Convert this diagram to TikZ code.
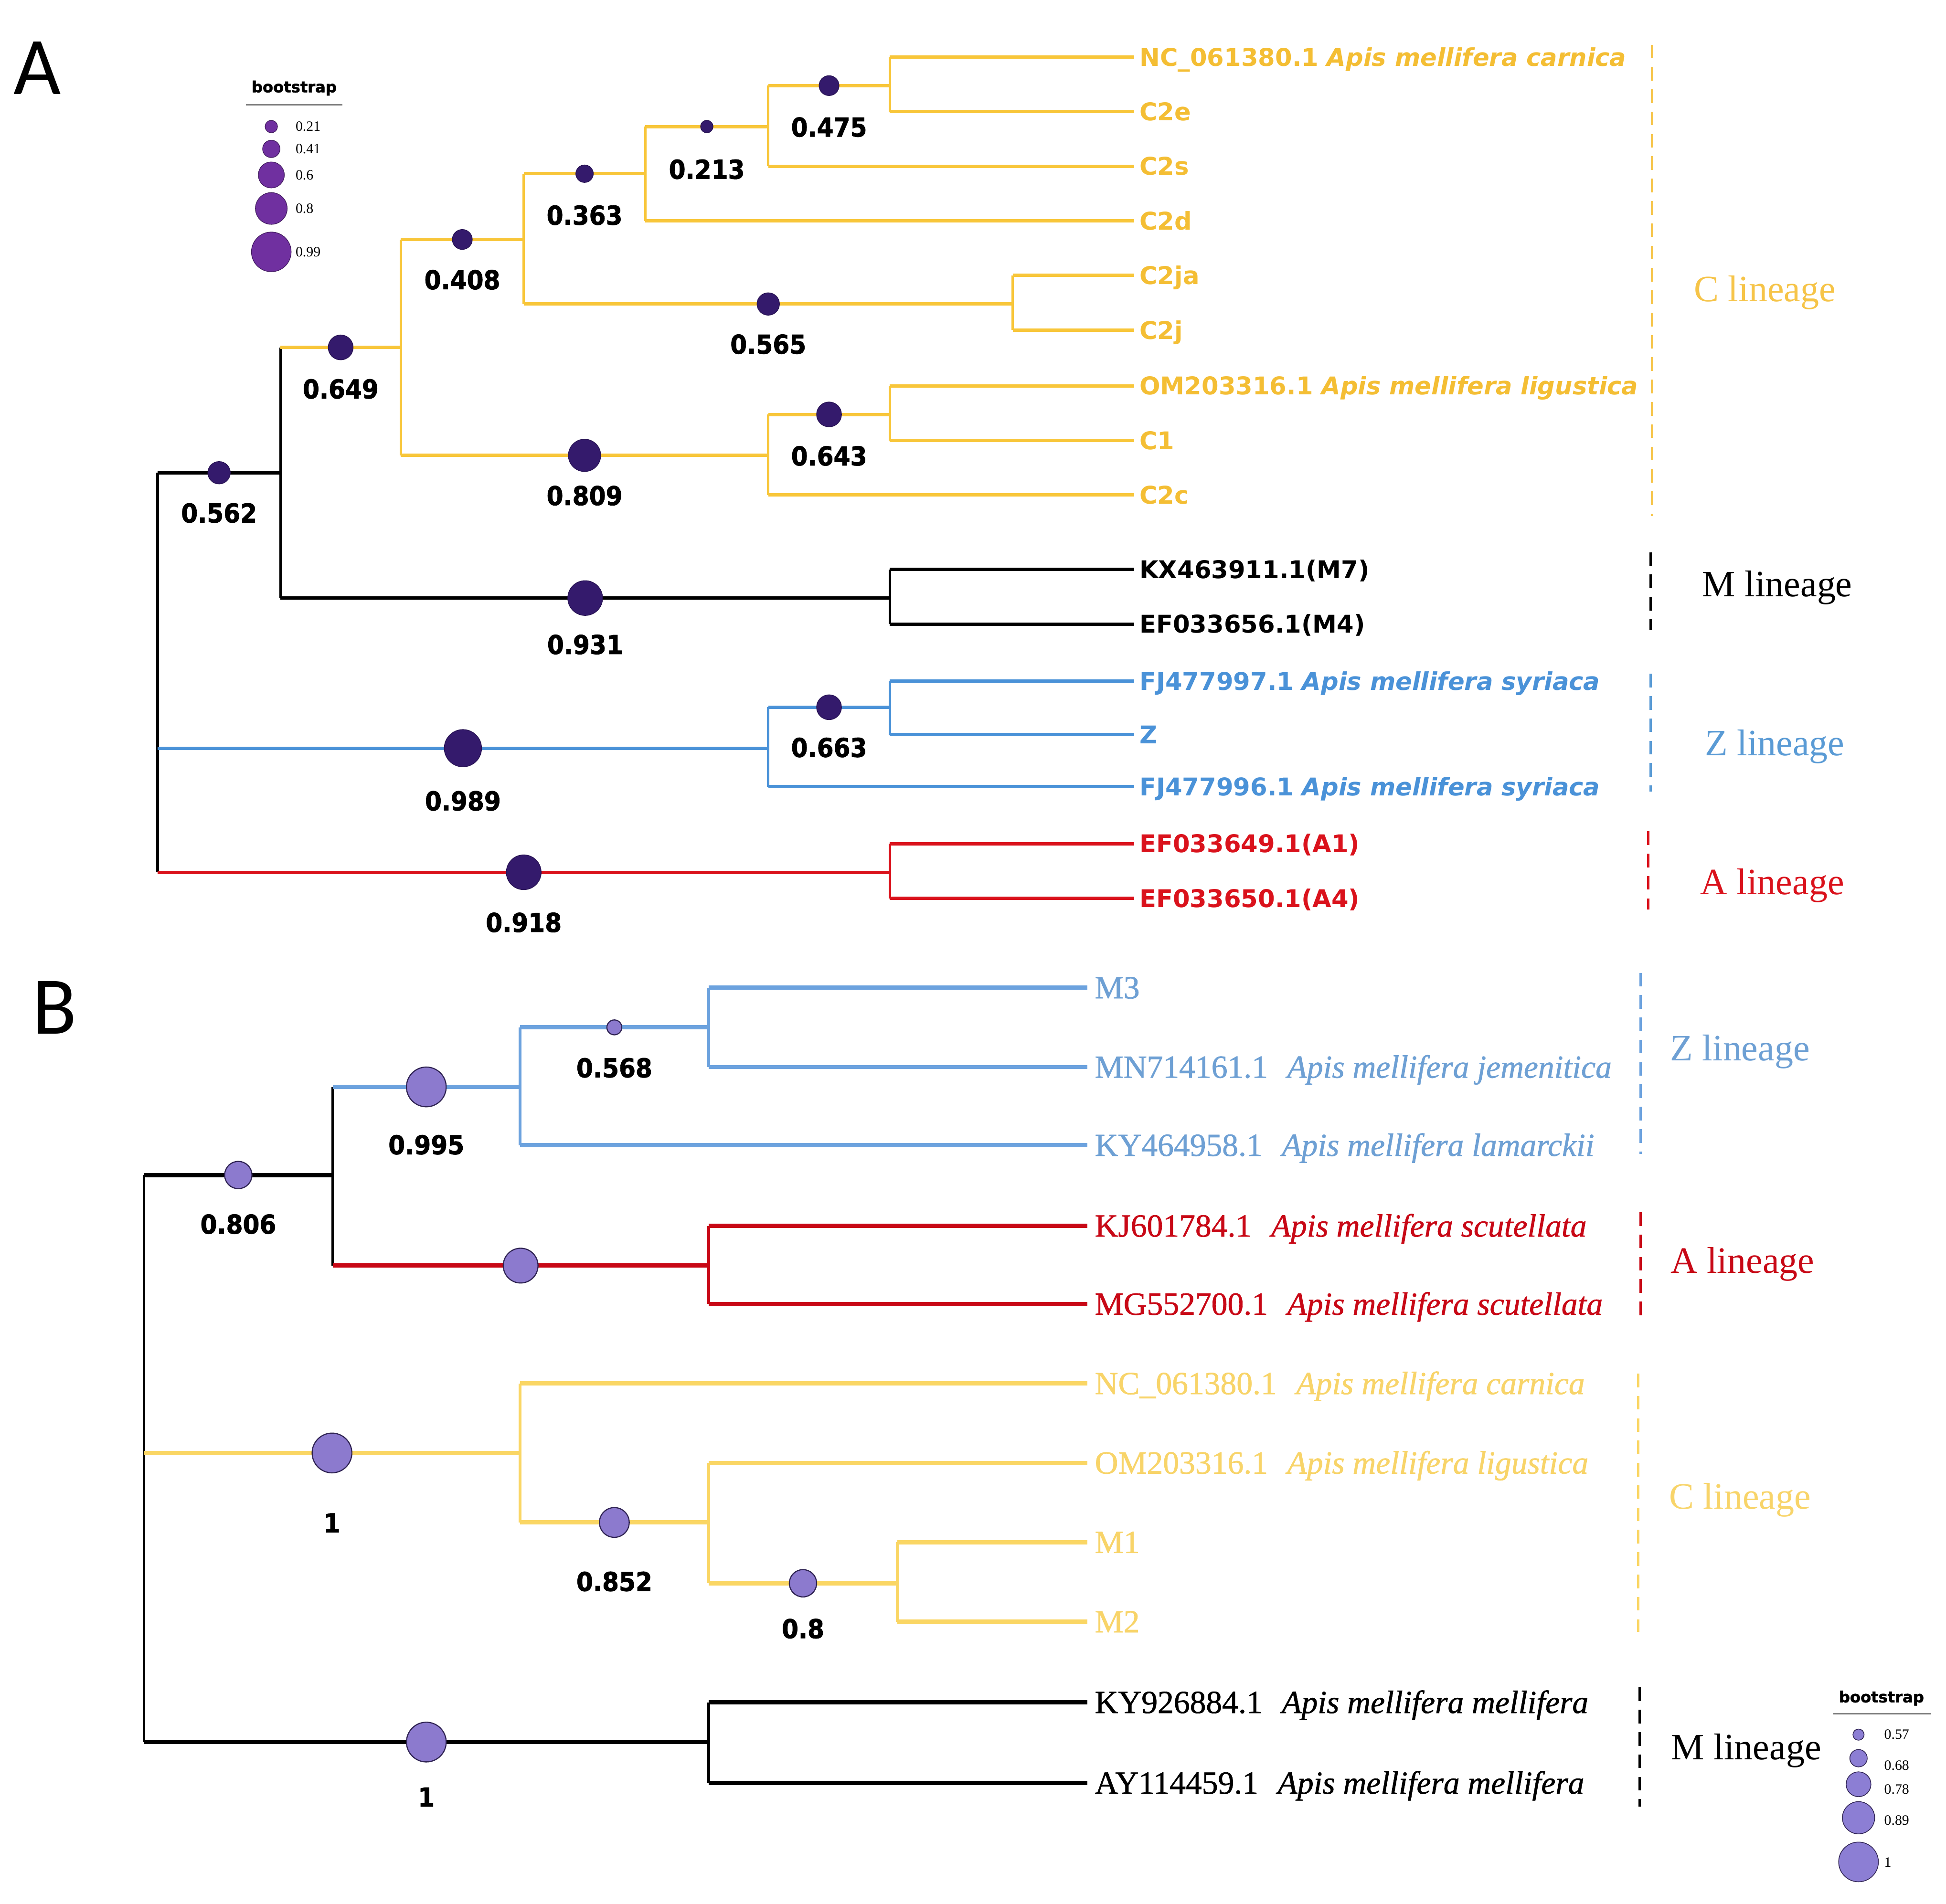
\documentclass[tikz,border=0pt]{standalone}
\usepackage{fontspec}
\usepackage{graphicx}
\newfontfamily\vfont{DejaVu Sans}
\newfontfamily\bsfont{DejaVu Sans}[BoldFeatures={FakeBold=1.6}]
\newfontfamily\tfont{Liberation Serif}
\newfontfamily\tbfont{Liberation Serif}[FakeBold=1]
\newfontfamily\cfont{Carlito}
\newcommand{\bsnum}[1]{\scalebox{0.92}[1]{#1}}
\usetikzlibrary{positioning}
\definecolor{yA}{RGB}{248,198,58}
\definecolor{yAt}{RGB}{244,190,52}
\definecolor{bA}{RGB}{74,146,216}
\definecolor{rA}{RGB}{218,18,28}
\definecolor{dotA}{RGB}{52,26,108}
\definecolor{legA}{RGB}{112,48,160}
\definecolor{yB}{RGB}{250,214,100}
\definecolor{yBt}{RGB}{248,212,105}
\definecolor{bB}{RGB}{108,162,222}
\definecolor{bBt}{RGB}{110,160,212}
\definecolor{rB}{RGB}{200,8,22}
\definecolor{dotB}{RGB}{140,122,206}
\definecolor{dotBline}{RGB}{48,36,84}
\definecolor{legB}{RGB}{140,126,212}
\definecolor{zlab}{RGB}{90,155,213}
\definecolor{clab}{RGB}{246,196,72}
\begin{document}
\begin{tikzpicture}[x=1pt,y=-1pt,
  hA/.style={line width=2.7pt},
  vA/.style={line width=2pt},
  hB/.style={line width=3.4pt},
  vB/.style={line width=2pt},
  dA/.style={circle,fill=dotA,draw=dotA!80!black,line width=0.6pt,inner sep=0pt,minimum size=#1},
  dB/.style={circle,fill=dotB,draw=dotBline,line width=0.9pt,inner sep=0pt,minimum size=#1},
  bsl/.style={font=\bsfont\bfseries\fontsize{21}{22}\selectfont,inner sep=0pt},
  tipA/.style={anchor=west,inner xsep=4pt,inner ysep=0pt,text height=14.4pt,text depth=0pt,font=\vfont\bfseries\fontsize{19.7}{20}\selectfont},
  tipB/.style={anchor=west,inner xsep=6pt,inner ysep=0pt,text height=17.2pt,text depth=0pt,font=\tbfont\fontsize{26}{27}\selectfont},
  lin/.style={font=\tfont\fontsize{30}{31}\selectfont,inner sep=0pt,text height=19.9pt,text depth=0pt},
  brk/.style={line width=2pt,dash pattern=on 11pt off 7pt},
  legt/.style={font=\bsfont\bfseries\fontsize{12.4}{13}\selectfont,inner sep=0pt},
  legn/.style={font=\tfont\fontsize{11.5}{12}\selectfont,inner sep=0pt,anchor=west},
  pan/.style={font=\cfont\fontsize{66}{66}\selectfont,inner sep=0pt},
]
\useasboundingbox (0,0) rectangle (1568,1534.5);
\fill[white] (0,0) rectangle (1568,1534.5);

% ================= Panel A =================
\node[pan] (pA) at (30,55) {A};

% legend A
\node[legt] (legAt) at (237,71) {bootstrap};
\draw[gray,line width=1.2pt] (198,84.5) -- (276,84.5);
\node[circle,fill=legA,draw=legA!60!black,line width=0.5pt,inner sep=0pt,minimum size=10pt] (lgA1) at (218.6,102) {};
\node[circle,fill=legA,draw=legA!60!black,line width=0.5pt,inner sep=0pt,minimum size=14pt] (lgA2) at (218.6,120) {};
\node[circle,fill=legA,draw=legA!60!black,line width=0.5pt,inner sep=0pt,minimum size=21pt] (lgA3) at (218.6,141) {};
\node[circle,fill=legA,draw=legA!60!black,line width=0.5pt,inner sep=0pt,minimum size=25.6pt] (lgA4) at (218.6,168) {};
\node[circle,fill=legA,draw=legA!60!black,line width=0.5pt,inner sep=0pt,minimum size=32pt] (lgA5) at (218.6,203) {};
\node[legn] (lgAn1) at (238,102) {0.21};
\node[legn] (lgAn2) at (238,120) {0.41};
\node[legn] (lgAn3) at (238,141) {0.6};
\node[legn] (lgAn4) at (238,168) {0.8};
\node[legn] (lgAn5) at (238,203) {0.99};

% internal nodes A
\coordinate (aR) at (127,542);
\coordinate (a562) at (226,381);
\coordinate (a649) at (323,280);
\coordinate (a408) at (422,193);
\coordinate (a363) at (520,140);
\coordinate (a213) at (619,102);
\coordinate (a475) at (717,69);
\coordinate (a565) at (816,245);
\coordinate (a809) at (619,367);
\coordinate (a643) at (717,334);
\coordinate (aM) at (717,482);
\coordinate (aZ) at (619,603);
\coordinate (a663) at (717,570);
\coordinate (aA) at (717,703);

% tips A
\node[tipA,text=yAt] (tNC) at (914,46) {NC\_061380.1 \textit{Apis mellifera carnica}};
\node[tipA,text=yAt] (tC2e) at (914,90) {C2e};
\node[tipA,text=yAt] (tC2s) at (914,134) {C2s};
\node[tipA,text=yAt] (tC2d) at (914,178) {C2d};
\node[tipA,text=yAt] (tC2ja) at (914,222) {C2ja};
\node[tipA,text=yAt] (tC2j) at (914,266) {C2j};
\node[tipA,text=yAt] (tOM) at (914,311) {OM203316.1 \textit{Apis mellifera ligustica}};
\node[tipA,text=yAt] (tC1) at (914,355) {C1};
\node[tipA,text=yAt] (tC2c) at (914,399) {C2c};
\node[tipA,text=black] (tKX) at (914,459) {KX463911.1(M7)};
\node[tipA,text=black] (tEF56) at (914,503) {EF033656.1(M4)};
\node[tipA,text=bA] (tFJ97) at (914,549) {FJ477997.1 \textit{Apis mellifera syriaca}};
\node[tipA,text=bA] (tZ) at (914,592) {Z};
\node[tipA,text=bA] (tFJ96) at (914,634) {FJ477996.1 \textit{Apis mellifera syriaca}};
\node[tipA,text=rA] (tEF49) at (914,680) {EF033649.1(A1)};
\node[tipA,text=rA] (tEF50) at (914,724) {EF033650.1(A4)};

% root A
\draw[vA] (aR |- a562) -- (aR |- aA);
\draw[hA] (aR |- a562) -- (a562) node[midway,dA=18pt] (d562) {};
\draw[hA,bA] (aR |- aZ) -- (aZ) node[midway,dA=30pt] (d989) {};
\draw[hA,rA] (aR |- aA) -- (aA) node[midway,dA=28pt] (d918) {};
% a562
\draw[vA] (a562 |- a649) -- (a562 |- aM);
\draw[hA,yA] (a562 |- a649) -- (a649) node[midway,dA=20pt] (d649) {};
\draw[hA] (a562 |- aM) -- (aM) node[midway,dA=28pt] (d931) {};
% a649
\draw[vA,yA] (a649 |- a408) -- (a649 |- a809);
\draw[hA,yA] (a649 |- a408) -- (a408) node[midway,dA=16pt] (d408) {};
\draw[hA,yA] (a649 |- a809) -- (a809) node[midway,dA=26pt] (d809) {};
% a408
\draw[vA,yA] (a408 |- a363) -- (a408 |- a565);
\draw[hA,yA] (a408 |- a363) -- (a363) node[midway,dA=14pt] (d363) {};
\draw[hA,yA] (a408 |- a565) -- (a565) node[midway,dA=18pt] (d565) {};
% a363
\draw[vA,yA] (a363 |- a213) -- (a363 |- tC2d);
\draw[hA,yA] (a363 |- a213) -- (a213) node[midway,dA=10pt] (d213) {};
\draw[hA,yA] (a363 |- tC2d) -- (tC2d.west);
% a213
\draw[vA,yA] (a213 |- a475) -- (a213 |- tC2s);
\draw[hA,yA] (a213 |- a475) -- (a475) node[midway,dA=16pt] (d475) {};
\draw[hA,yA] (a213 |- tC2s) -- (tC2s.west);
% a475
\draw[vA,yA] (a475 |- tNC) -- (a475 |- tC2e);
\draw[hA,yA] (a475 |- tNC) -- (tNC.west);
\draw[hA,yA] (a475 |- tC2e) -- (tC2e.west);
% a565
\draw[vA,yA] (a565 |- tC2ja) -- (a565 |- tC2j);
\draw[hA,yA] (a565 |- tC2ja) -- (tC2ja.west);
\draw[hA,yA] (a565 |- tC2j) -- (tC2j.west);
% a809
\draw[vA,yA] (a809 |- a643) -- (a809 |- tC2c);
\draw[hA,yA] (a809 |- a643) -- (a643) node[midway,dA=20pt] (d643) {};
\draw[hA,yA] (a809 |- tC2c) -- (tC2c.west);
% a643
\draw[vA,yA] (a643 |- tOM) -- (a643 |- tC1);
\draw[hA,yA] (a643 |- tOM) -- (tOM.west);
\draw[hA,yA] (a643 |- tC1) -- (tC1.west);
% aM
\draw[vA] (aM |- tKX) -- (aM |- tEF56);
\draw[hA] (aM |- tKX) -- (tKX.west);
\draw[hA] (aM |- tEF56) -- (tEF56.west);
% aZ
\draw[vA,bA] (aZ |- a663) -- (aZ |- tFJ96);
\draw[hA,bA] (aZ |- a663) -- (a663) node[midway,dA=20pt] (d663) {};
\draw[hA,bA] (aZ |- tFJ96) -- (tFJ96.west);
% a663
\draw[vA,bA] (a663 |- tFJ97) -- (a663 |- tZ);
\draw[hA,bA] (a663 |- tFJ97) -- (tFJ97.west);
\draw[hA,bA] (a663 |- tZ) -- (tZ.west);
% aA
\draw[vA,rA] (aA |- tEF49) -- (aA |- tEF50);
\draw[hA,rA] (aA |- tEF49) -- (tEF49.west);
\draw[hA,rA] (aA |- tEF50) -- (tEF50.west);

% bootstrap values A
\node[bsl,below=15pt of d562] (l562) {\bsnum{0.562}};
\node[bsl,below=15pt of d649] (l649) {\bsnum{0.649}};
\node[bsl,below=16pt of d408] (l408) {\bsnum{0.408}};
\node[bsl,below=18pt of d363] (l363) {\bsnum{0.363}};
\node[bsl,below=21pt of d213] (l213) {\bsnum{0.213}};
\node[bsl,below=17pt of d475] (l475) {\bsnum{0.475}};
\node[bsl,below=15pt of d565] (l565) {\bsnum{0.565}};
\node[bsl,below=11pt of d809] (l809) {\bsnum{0.809}};
\node[bsl,below=15pt of d643] (l643) {\bsnum{0.643}};
\node[bsl,below=15pt of d931] (l931) {\bsnum{0.931}};
\node[bsl,below=19pt of d989] (l989) {\bsnum{0.989}};
\node[bsl,below=14pt of d663] (l663) {\bsnum{0.663}};
\node[bsl,below=18pt of d918] (l918) {\bsnum{0.918}};

% lineage brackets A
\draw[brk,clab] (1331,36) -- (1331,416);
\draw[brk,black] (1330,445) -- (1330,508);
\draw[brk,zlab] (1330,543) -- (1330,638);
\draw[brk,rA] (1328,670) -- (1328,733);
\node[lin,text=clab] (linAC) at (1422,233) {C lineage};
\node[lin,text=black] (linAM) at (1432,471) {M lineage};
\node[lin,text=zlab] (linAZ) at (1430,599) {Z lineage};
\node[lin,text=rA] (linAA) at (1428,711) {A lineage};

% ================= Panel B =================
\node[pan] (pB) at (44,812) {B};

\coordinate (bR) at (116,1175);
\coordinate (b806) at (268,947);
\coordinate (bZ) at (419,876);
\coordinate (b568) at (571,828);
\coordinate (bA) at (571,1020);
\coordinate (bC) at (419,1171);
\coordinate (b852) at (571,1227);
\coordinate (b08) at (723,1276);
\coordinate (bM) at (571,1404);

\node[tipB,text=bBt] (uM3) at (876,796) {M3};
\node[tipB,text=bBt] (uMN) at (876,860) {MN714161.1\hspace{0.35em} \textit{Apis mellifera jemenitica}};
\node[tipB,text=bBt] (uKY46) at (876,923) {KY464958.1\hspace{0.35em} \textit{Apis mellifera lamarckii}};
\node[tipB,text=rB] (uKJ) at (876,988) {KJ601784.1\hspace{0.35em} \textit{Apis mellifera scutellata}};
\node[tipB,text=rB] (uMG) at (876,1051) {MG552700.1\hspace{0.35em} \textit{Apis mellifera scutellata}};
\node[tipB,text=yBt] (uNC) at (876,1115) {NC\_061380.1\hspace{0.35em} \textit{Apis mellifera carnica}};
\node[tipB,text=yBt] (uOM) at (876,1179) {OM203316.1\hspace{0.35em} \textit{Apis mellifera ligustica}};
\node[tipB,text=yBt] (uM1) at (876,1243) {M1};
\node[tipB,text=yBt] (uM2) at (876,1307) {M2};
\node[tipB,text=black] (uKY92) at (876,1372) {KY926884.1\hspace{0.35em} \textit{Apis mellifera mellifera}};
\node[tipB,text=black] (uAY) at (876,1437) {AY114459.1\hspace{0.35em} \textit{Apis mellifera mellifera}};

% root B
\draw[vB] (bR |- b806) -- (bR |- bM);
\draw[hB] (bR |- b806) -- (b806) node[midway,dB=22pt] (d806) {};
\draw[hB,yB] (bR |- bC) -- (bC) node[midway,dB=32pt] (dC1) {};
\draw[hB] (bR |- bM) -- (bM) node[midway,dB=32pt] (dM1) {};
% b806
\draw[vB] (b806 |- bZ) -- (b806 |- bA);
\draw[hB,bB] (b806 |- bZ) -- (bZ) node[midway,dB=32pt] (d995) {};
\draw[hB,rB] (b806 |- bA) -- (bA) node[midway,dB=28pt] (dAB) {};
% bZ
\draw[vB,bB] (bZ |- b568) -- (bZ |- uKY46);
\draw[hB,bB] (bZ |- b568) -- (b568) node[midway,dB=12pt] (d568) {};
\draw[hB,bB] (bZ |- uKY46) -- (uKY46.west);
% b568
\draw[vB,bB] (b568 |- uM3) -- (b568 |- uMN);
\draw[hB,bB] (b568 |- uM3) -- (uM3.west);
\draw[hB,bB] (b568 |- uMN) -- (uMN.west);
% bA
\draw[vB,rB] (bA |- uKJ) -- (bA |- uMG);
\draw[hB,rB] (bA |- uKJ) -- (uKJ.west);
\draw[hB,rB] (bA |- uMG) -- (uMG.west);
% bC
\draw[vB,yB] (bC |- uNC) -- (bC |- b852);
\draw[hB,yB] (bC |- uNC) -- (uNC.west);
\draw[hB,yB] (bC |- b852) -- (b852) node[midway,dB=24pt] (d852) {};
% b852
\draw[vB,yB] (b852 |- uOM) -- (b852 |- b08);
\draw[hB,yB] (b852 |- uOM) -- (uOM.west);
\draw[hB,yB] (b852 |- b08) -- (b08) node[midway,dB=22pt] (d08) {};
% b08
\draw[vB,yB] (b08 |- uM1) -- (b08 |- uM2);
\draw[hB,yB] (b08 |- uM1) -- (uM1.west);
\draw[hB,yB] (b08 |- uM2) -- (uM2.west);
% bM
\draw[vB] (bM |- uKY92) -- (bM |- uAY);
\draw[hB] (bM |- uKY92) -- (uKY92.west);
\draw[hB] (bM |- uAY) -- (uAY.west);

% bootstrap values B
\node[bsl,below=20pt of d806] (l806) {\bsnum{0.806}};
\node[bsl,below=22pt of d995] (l995) {\bsnum{0.995}};
\node[bsl,below=18pt of d568] (l568) {\bsnum{0.568}};
\node[bsl,below=32pt of dC1] (lC1) {\bsnum{1}};
\node[bsl,below=27pt of d852] (l852) {\bsnum{0.852}};
\node[bsl,below=17pt of d08] (l08) {\bsnum{0.8}};
\node[bsl,below=20pt of dM1] (lM1) {\bsnum{1}};

% lineage brackets B
\draw[brk,bB] (1322,784) -- (1322,930);
\draw[brk,rB] (1322,977) -- (1322,1065);
\draw[brk,yB] (1320,1107) -- (1320,1315);
\draw[brk,black] (1321,1360) -- (1321,1456);
\node[lin,text=bBt] (linBZ) at (1402,845) {Z lineage};
\node[lin,text=rB] (linBA) at (1404,1016) {A lineage};
\node[lin,text=yBt] (linBC) at (1402,1206) {C lineage};
\node[lin,text=black] (linBM) at (1407,1408) {M lineage};

% legend B
\node[legt] (legBt) at (1516,1368.6) {bootstrap};
\draw[gray,line width=1.2pt] (1477,1381) -- (1556,1381);
\node[circle,fill=legB,draw=dotBline,line width=0.6pt,inner sep=0pt,minimum size=9pt] (lgB1) at (1497.5,1398) {};
\node[circle,fill=legB,draw=dotBline,line width=0.6pt,inner sep=0pt,minimum size=14pt] (lgB2) at (1497.5,1417) {};
\node[circle,fill=legB,draw=dotBline,line width=0.6pt,inner sep=0pt,minimum size=20pt] (lgB3) at (1497.5,1438) {};
\node[circle,fill=legB,draw=dotBline,line width=0.6pt,inner sep=0pt,minimum size=26pt] (lgB4) at (1497.5,1465) {};
\node[circle,fill=legB,draw=dotBline,line width=0.6pt,inner sep=0pt,minimum size=32pt] (lgB5) at (1497.5,1500.6) {};
\node[legn] (lgBn1) at (1518,1398) {0.57};
\node[legn] (lgBn2) at (1518,1423) {0.68};
\node[legn] (lgBn3) at (1518,1442) {0.78};
\node[legn] (lgBn4) at (1518,1467) {0.89};
\node[legn] (lgBn5) at (1518,1501) {1};
\end{tikzpicture}
\end{document}
